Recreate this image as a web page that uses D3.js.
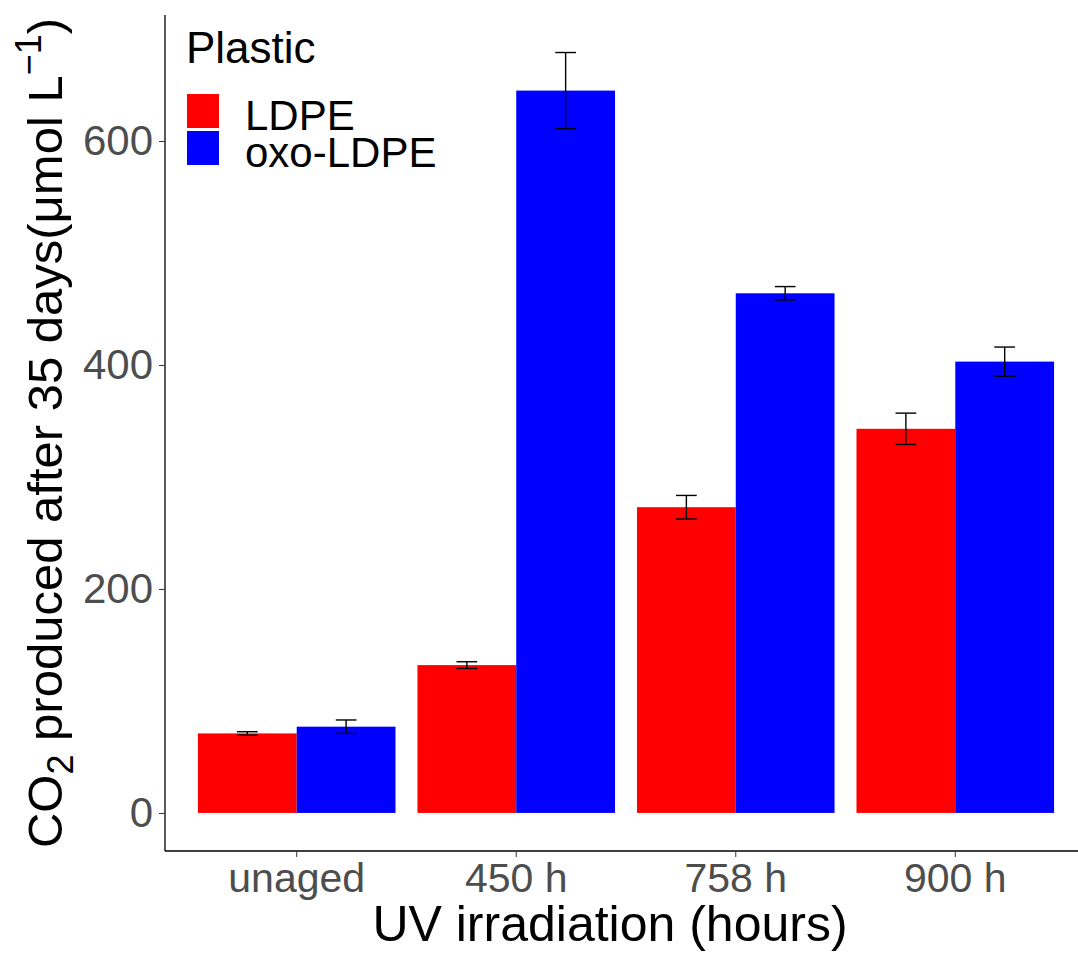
<!DOCTYPE html>
<html>
<head>
<meta charset="utf-8">
<script src="https://cdn.jsdelivr.net/npm/d3@7"></script>
<style>
  body { margin: 0; background: #fff; }
  svg { display: block; font-family: "Liberation Sans", Arial, sans-serif; }
</style>
</head>
<body>
<div id="chart"></div>
<script>
// values
const categories = ["unaged", "450 h", "758 h", "900 h"];
const series = ["LDPE", "oxo-LDPE"];
const colors = ["#ff0000", "#0000ff"];
const ldpe = [71, 132, 273, 343];
const ldpeErr = [1.5, 3, 10.5, 14];
const oxo = [77, 645, 464, 403];
const oxoErr = [6, 34, 6, 13];
const yTicks = [0, 200, 400, 600];

const width = 1078, height = 953;
const panel = { left: 165, right: 1087, top: 15, bottom: 851 };

const svg = d3.select("#chart").append("svg")
  .attr("width", width)
  .attr("height", height);

const x = d3.scaleBand()
  .domain(categories)
  .range([panel.left, panel.right])
  .paddingInner(0.1)
  .paddingOuter(0.15);

const xSub = d3.scaleBand()
  .domain(series)
  .range([0, x.bandwidth()]);

const y = d3.scaleLinear()
  .domain([-34, 712.5])
  .range([panel.bottom, panel.top]);

const rows = [];
categories.forEach((c, i) => {
  rows.push({ cat: c, s: series[0], v: ldpe[i], e: ldpeErr[i], col: colors[0] });
  rows.push({ cat: c, s: series[1], v: oxo[i], e: oxoErr[i], col: colors[1] });
});

// bars
svg.append("g").selectAll("rect")
  .data(rows)
  .enter()
  .append("rect")
  .attr("x", d => x(d.cat) + xSub(d.s))
  .attr("width", xSub.bandwidth())
  .attr("y", d => y(d.v))
  .attr("height", d => y(0) - y(d.v))
  .attr("fill", d => d.col);

// error bars
const capW = xSub.bandwidth() * 0.21;
const eb = svg.append("g").attr("stroke", "#000").attr("stroke-width", 1.4);
rows.forEach(d => {
  const cx = x(d.cat) + xSub(d.s) + xSub.bandwidth() / 2;
  eb.append("line").attr("x1", cx).attr("x2", cx).attr("y1", y(d.v + d.e)).attr("y2", y(d.v - d.e));
  eb.append("line").attr("x1", cx - capW / 2).attr("x2", cx + capW / 2).attr("y1", y(d.v + d.e)).attr("y2", y(d.v + d.e));
  eb.append("line").attr("x1", cx - capW / 2).attr("x2", cx + capW / 2).attr("y1", y(d.v - d.e)).attr("y2", y(d.v - d.e));
});

// y axis
const yAxis = svg.append("g")
  .attr("transform", `translate(${panel.left},0)`)
  .call(d3.axisLeft(y).tickValues(yTicks).tickSize(6).tickPadding(6).tickFormat(d3.format("d")));
yAxis.select(".domain").attr("d", `M0,${panel.top}V${panel.bottom}`).attr("stroke", "#000").attr("stroke-width", 1.3);
yAxis.selectAll(".tick line").attr("stroke", "#333");
yAxis.selectAll(".tick text")
  .attr("fill", "#4d4d4d")
  .style("font-size", "42px")
  .style("font-family", "'Liberation Sans', Arial, sans-serif");

// x axis
const xAxis = svg.append("g")
  .attr("transform", `translate(0,${panel.bottom})`)
  .call(d3.axisBottom(x).tickSize(6).tickPadding(6));
xAxis.select(".domain").attr("d", `M${panel.left},0H${panel.right}`).attr("stroke", "#000").attr("stroke-width", 1.3);
xAxis.selectAll(".tick line").attr("stroke", "#333");
xAxis.selectAll(".tick text")
  .attr("fill", "#4d4d4d")
  .style("font-size", "41px")
  .style("font-family", "'Liberation Sans', Arial, sans-serif");

// axis titles
svg.append("text")
  .attr("x", 610)
  .attr("y", 941)
  .attr("text-anchor", "middle")
  .style("font-size", "50px")
  .text("UV irradiation (hours)");

const yt = svg.append("text")
  .attr("transform", `translate(62,${(panel.top + panel.bottom) / 2}) rotate(-90)`)
  .attr("text-anchor", "middle")
  .style("font-size", "49px");
yt.append("tspan").text("CO");
yt.append("tspan").attr("dy", 11).style("font-size", "36px").text("2");
yt.append("tspan").attr("dy", -11).text(" produced after 35 days(\u03bcmol L");
yt.append("tspan").attr("dy", -21).style("font-size", "36px").text("\u22121");
yt.append("tspan").attr("dy", 21).text(")");

// legend
const leg = svg.append("g");
leg.append("text").attr("x", 186).attr("y", 63).style("font-size", "44px").text("Plastic");
series.forEach((s, i) => {
  leg.append("rect")
    .attr("x", 187).attr("y", 94 + i * 37)
    .attr("width", 32).attr("height", 34)
    .attr("fill", colors[i]);
  leg.append("text")
    .attr("x", 245).attr("y", 130 + i * 37)
    .style("font-size", "42px")
    .text(s);
});
</script>
</body>
</html>
